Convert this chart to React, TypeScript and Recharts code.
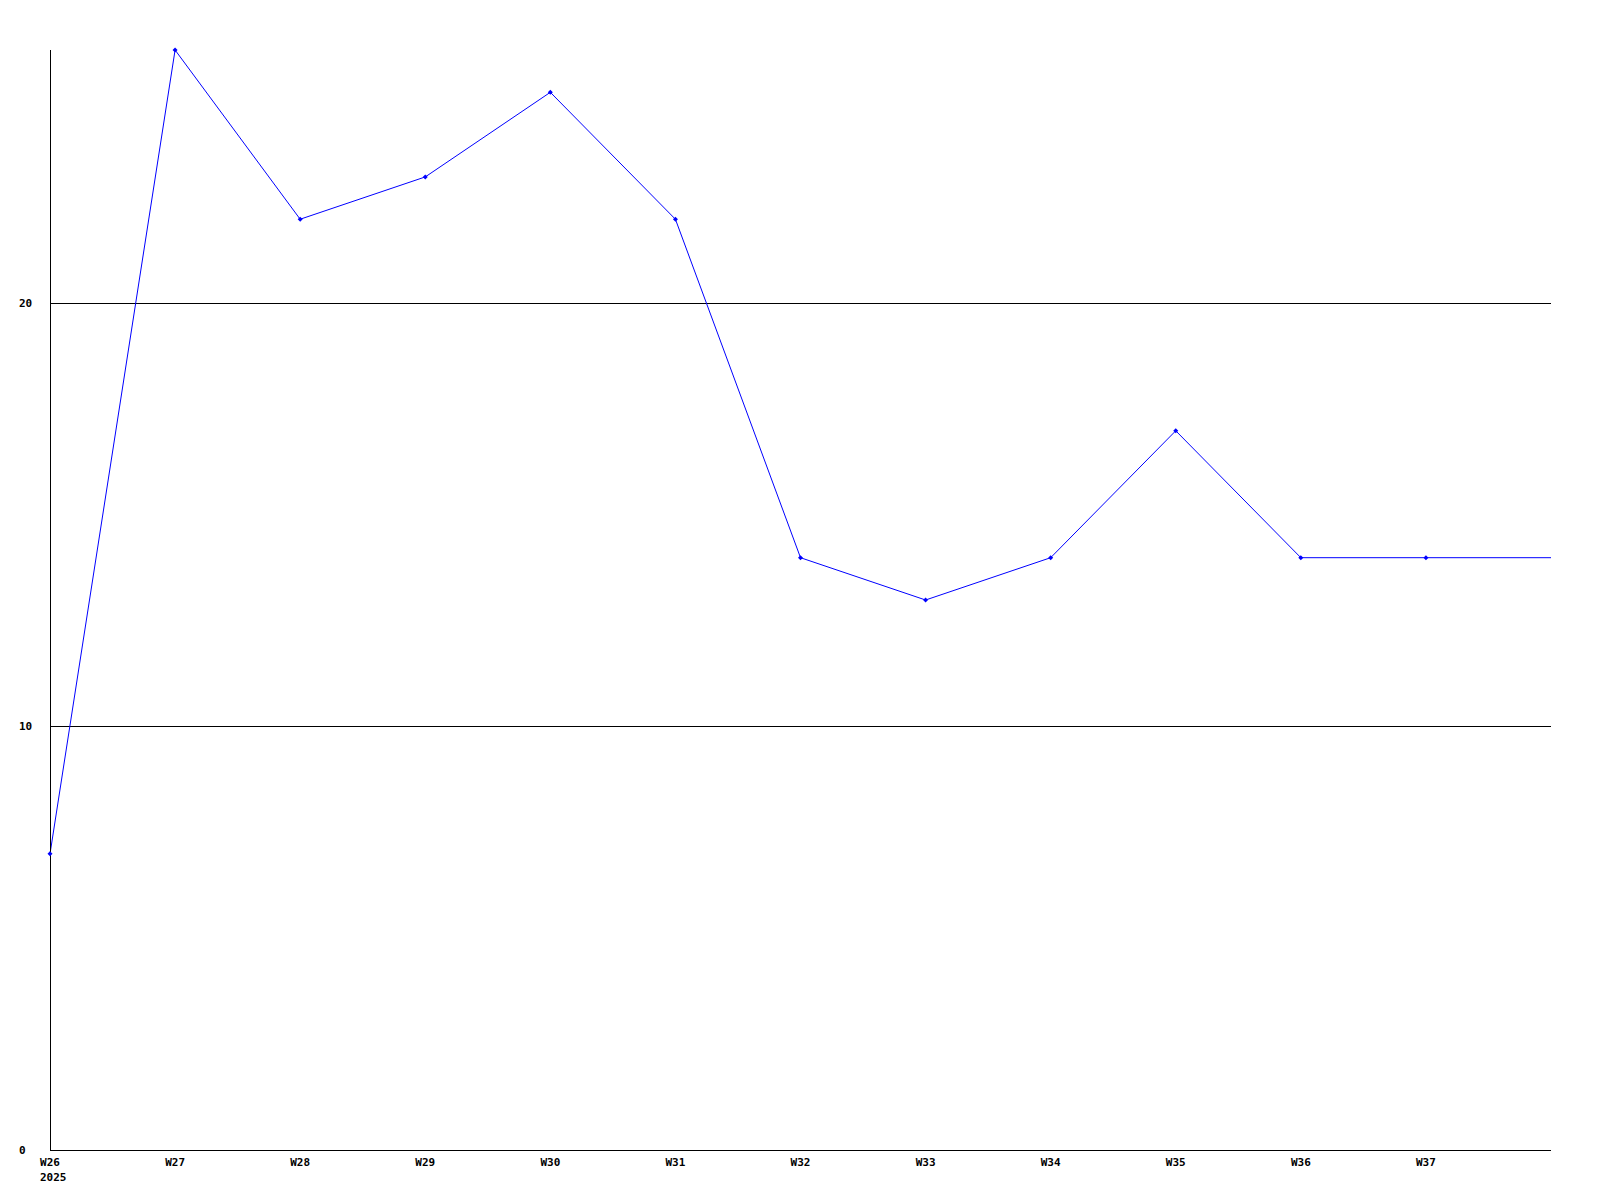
import { LineChart, Line, XAxis, YAxis, ReferenceLine } from "recharts";

const weeks = ["W26", "W27", "W28", "W29", "W30", "W31", "W32", "W33", "W34", "W35", "W36", "W37", "W38"];
const counts = [7, 26, 22, 23, 25, 22, 14, 13, 14, 17, 14, 14, 14];
const yTicks = [0, 10, 20];
const gridValues = [10, 20];
const yearLabel = "2025";

const data = weeks.map((week, i) => ({ week, count: counts[i] }));

const FONT = "'DejaVu Sans Mono', monospace";

function XTick(props: any) {
  const { x, y, payload, index } = props;
  if (index === weeks.length - 1) return null;
  return (
    <g>
      <text x={x} y={y + 4} textAnchor="middle" dominantBaseline="central" fontFamily={FONT} fontSize={11} fontWeight="bold" fill="#000">
        {payload.value}
      </text>
      {index === 0 && (
        <text x={x - 10} y={y + 19} textAnchor="start" dominantBaseline="central" fontFamily={FONT} fontSize={11} fontWeight="bold" fill="#000">
          {yearLabel}
        </text>
      )}
    </g>
  );
}

function YTick(props: any) {
  const { y, payload } = props;
  return (
    <text x={19} y={y} textAnchor="start" dominantBaseline="central" fontFamily={FONT} fontSize={11} fontWeight="bold" fill="#000">
      {payload.value}
    </text>
  );
}

function Marker(props: any) {
  const { cx, cy, index } = props;
  if (index === weeks.length - 1) return <g key={index} />;
  return <path key={index} d={`M${cx - 2.5},${cy} L${cx},${cy - 2.5} L${cx + 2.5},${cy} L${cx},${cy + 2.5} Z`} fill="#0000ff" />;
}

export default function App() {
  return (
    <div style={{ position: "absolute", left: 0, top: 0, width: 1600, height: 1200, background: "#fff" }}>
      <LineChart width={1600} height={1200} data={data} margin={{ top: 50, right: 49, bottom: 0, left: 0 }}>
        <XAxis dataKey="week" height={50} axisLine={{ stroke: "#000", shapeRendering: "crispEdges" }} tickLine={false} tick={<XTick />} interval={0} />
        <YAxis width={50} domain={[0, 26]} ticks={yTicks} axisLine={{ stroke: "#000", shapeRendering: "crispEdges" }} tickLine={false} tick={<YTick />} />
        {gridValues.map((v) => (
          <ReferenceLine key={v} y={v} stroke="#000" strokeWidth={1} shapeRendering="crispEdges" />
        ))}
        <Line type="linear" dataKey="count" stroke="#0000ff" strokeWidth={1} dot={<Marker />} activeDot={false} isAnimationActive={false} />
      </LineChart>
    </div>
  );
}
